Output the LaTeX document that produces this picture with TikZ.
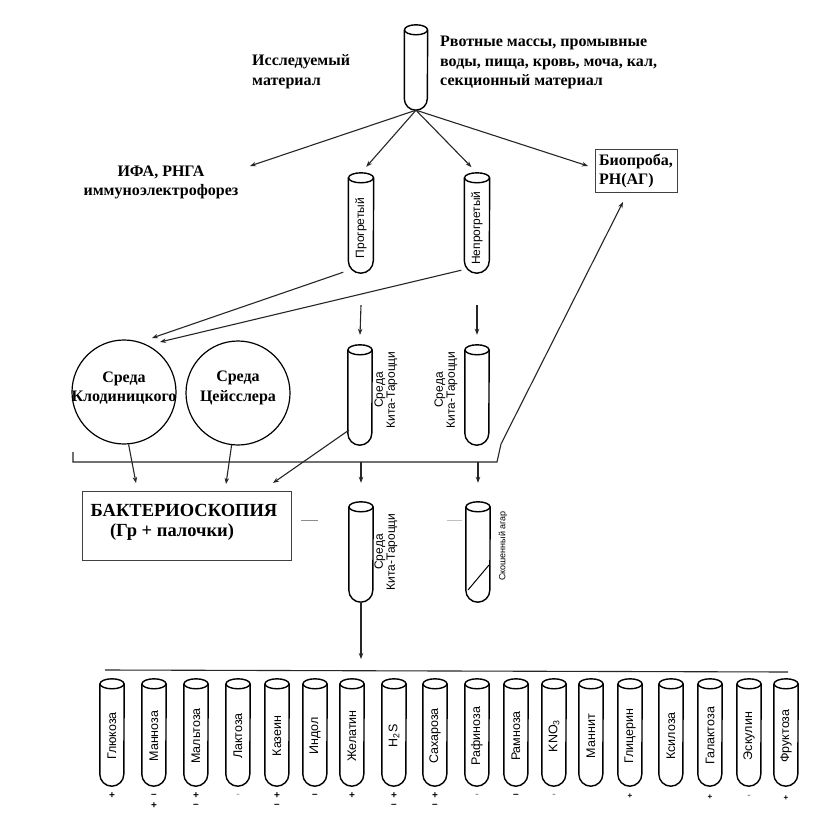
\documentclass[tikz,border=0pt]{standalone}
\usepackage{fontspec}
\setmainfont{Liberation Serif}
\newfontfamily\tubefont{Liberation Sans}
\usetikzlibrary{arrows.meta,calc}

\newcommand\tube[5][24]{%
  \node[tubenode, minimum width=#1pt, minimum height={(#5-#4)*1pt}] (#2) at (#3,{(#4+#5)/2}) {};
  \draw[tubeline] ($(#2.north west)+(0,5)$) -- ($(#2.south west)+(0,-#1/2)$)
     arc[start angle=180,end angle=360,radius={#1*0.5pt}] -- ($(#2.north east)+(0,5)$);
  \draw[tubeline] ($(#2.north)+(0,5)$) ellipse[x radius={#1*0.5pt}, y radius=5pt];
}

\begin{document}
\begin{tikzpicture}[x=1pt,y=-1pt,
  ln/.style={line width=1.1pt, black!85},
  arr/.style={ln, -{Stealth[length=6pt,width=4.5pt]}},
  tubeline/.style={line width=1.4pt, black},
  tubenode/.style={inner sep=0, draw=none, rectangle},
  lbl/.style={font=\fontsize{16}{19.5}\selectfont\bfseries, inner sep=0, align=left},
  tlab/.style={font=\tubefont\fontsize{12}{12}\selectfont, rotate=90, inner sep=0, align=center},
  blab/.style={font=\tubefont\fontsize{12.5}{12.5}\selectfont, rotate=90, inner sep=0},
  sgn/.style={font=\tubefont\bfseries\fontsize{10}{10}\selectfont, inner sep=0},
  ssgn/.style={font=\tubefont\bfseries\fontsize{8}{8}\selectfont, inner sep=0},
  box/.style={draw=black!75, line width=1pt, inner sep=0},
]
\fill[white] (0,0) rectangle (830,824);
\useasboundingbox (0,0) rectangle (830,824);

% ---------- texts at top
\node[lbl, anchor=west] (issl) at (252,71.5) {Исследуемый\\материал};
\node[lbl, anchor=west] (rvot) at (440,62.5) {Рвотные массы, промывные\\воды, пища, кровь, моча, кал,\\секционный материал};
\node[lbl, align=center] (ifa) at (161,182.5) {ИФА, РНГА\\иммуноэлектрофорез};
\node[lbl, box, minimum width=82pt, minimum height=42pt] (bio) at (636,171) {Биопроба,\\РН(АГ)};

% ---------- tubes
\tube[23]{spec}{416}{25}{110}
\tube[25]{prog}{361}{173}{273}
\tube[25]{noprog}{477}{173}{273}
\node[tlab] (progl) at (361,228) {Прогретый};
\node[tlab] (noprogl) at (477,228) {Непрогретый};

\tube[24]{kt1}{360}{345}{445}
\tube[24]{kt2}{477}{345}{445}
\node[tlab] (kt1l) at (386,390) {Среда\\Кита-Тароцци};
\node[tlab] (kt2l) at (446,390) {Среда\\Кита-Тароцци};

\tube[24]{kt3}{361}{502}{602}
\tube[24]{skosh}{478}{502}{602}
\node[tlab] (kt3l) at (386,552) {Среда\\Кита-Тароцци};
\node[tlab, font=\tubefont\fontsize{9}{9}\selectfont] (skoshl) at (503,546) {Скошенный агар};
\draw[line width=1pt] (468,590) -- (489,565);

% ---------- circles
\node[circle, draw, line width=1.2pt, minimum size=104pt, inner sep=0] (kl) at (124,392) {};
\node[lbl, align=center] (klt) at (124,388) {Среда\\Клодиницкого};
\node[circle, draw, line width=1.2pt, minimum size=104pt, inner sep=0] (zs) at (238,393) {};
\node[lbl, align=center] (zst) at (238,388) {Среда\\Цейсслера};

% ---------- bacterioscopy box
\node[box, minimum width=209pt, minimum height=69pt] (bak) at (186.5,525.5) {};
\node[font=\fontsize{18.5}{22}\selectfont\bfseries, inner sep=0] (bak1) at (184,510) {БАКТЕРИОСКОПИЯ};
\node[font=\fontsize{18.5}{22}\selectfont\bfseries, inner sep=0] (bak2) at (172,532) {(Гр + палочки)};

% ---------- coordinates
\coordinate (ifaend) at (250,166);
\coordinate (bioend) at (588,166);
\coordinate (klin1) at (152,338);
\coordinate (klin2) at (160,342);
\coordinate (brL0) at (73,452);
\coordinate (brL) at (73,462);
\coordinate (brR) at (497,462);
\coordinate (brRup) at (501,444);
\coordinate (bioin) at (623,202);
\coordinate (bk1) at (136,483);
\coordinate (bk2) at (226,484);
\coordinate (bk3) at (273,483);
\coordinate (kt3end) at (361,659);
\coordinate (bbL) at (105,670);
\coordinate (bbR) at (788,672);

% ---------- connectors
\draw[arr] (spec.south) -- (ifaend);
\draw[arr, shorten >=8pt] (spec.south) -- (prog.north);
\draw[arr, shorten >=8pt] (spec.south) -- (noprog.north);
\draw[arr] (spec.south) -- (bioend);

\draw[arr] ($(prog.south west)+(-5,-1)$) -- (klin1);
\draw[arr] ($(noprog.south west)+(-3,-3)$) -- (klin2);

\draw[arr] ([yshift=-32pt]prog.south) -- ([yshift=10pt]kt1.north);
\draw[arr] ([yshift=-32pt]noprog.south) -- ([yshift=10pt]kt2.north);

\draw[arr] (brL0) -- (brL) -- (brR) -- (brRup) -- (bioin);

\draw[arr] (kl.-85) -- (bk1);
\draw[arr] (zs.-97) -- (bk2);
\draw[arr] ($(kt1.south west)+(1,-15)$) -- (bk3);

\draw[arr] ([yshift=40pt]kt3.north) -- ([yshift=19pt]kt3.north);
\draw[arr] ([yshift=40pt]skosh.north) -- ([yshift=19pt]skosh.north);

\draw[arr] (kt3.south) -- (kt3end);
\draw[ln] (bbL) -- (bbR);

% faint scan marks
\draw[black!45, line width=1pt] (301,520) -- (318,520);
\draw[black!25, line width=1pt] (447,520) -- (462,520);

% ---------- bottom row of tubes
\foreach \n/\cx/\t in {1/112/Глюкоза, 2/154/Манноза, 3/196/Мальтоза, 4/238/Лактоза,
   5/277/Казеин, 6/315/Индол, 7/352/Желатин, 8/394/H\textsubscript{2}S, 9/435/Сахароза,
   10/477/Рафиноза, 11/516/Рамноза, 12/554/KNO\textsubscript{3}, 13/591/Маннит,
   14/630/Глицерин, 15/671/Ксилоза, 16/710/Галактоза, 17/749/Эскулин, 18/786/Фруктоза}{
  \tube[24]{b\n}{\cx}{679}{786}
  \node[blab] (b\n l) at (\cx,736) {\t};
}

% ---------- signs
\node[sgn] (s1a) at (b1 |- 0,796) {+};
\node[sgn] (s2a) at (b2 |- 0,796) {–};
\node[sgn] (s2b) at (b2 |- 0,806) {+};
\node[sgn] (s3a) at (b3 |- 0,796) {+};
\node[sgn] (s3b) at (b3 |- 0,806) {–};
\node[sgn, black!30] (s4a) at (b4 |- 0,796) {-};
\node[sgn] (s5a) at (b5 |- 0,796) {+};
\node[sgn] (s5b) at (b5 |- 0,806) {–};
\node[sgn] (s6a) at (b6 |- 0,796) {–};
\node[sgn] (s7a) at (b7 |- 0,796) {+};
\node[sgn] (s8a) at (b8 |- 0,796) {+};
\node[sgn] (s8b) at (b8 |- 0,806) {–};
\node[sgn] (s9a) at (b9 |- 0,796) {+};
\node[sgn] (s9b) at (b9 |- 0,806) {–};
\node[sgn, black!40] (s10a) at (b10 |- 0,796) {-};
\node[sgn] (s11a) at (b11 |- 0,796) {–};
\node[sgn, black!40] (s12a) at (b12 |- 0,796) {-};
\node[ssgn] (s14a) at (b14 |- 0,796) {+};
\node[ssgn] (s16a) at (b16 |- 0,797) {+};
\node[sgn, black!40] (s17a) at (b17 |- 0,797) {-};
\node[ssgn] (s18a) at (b18 |- 0,798) {+};
\end{tikzpicture}
\end{document}
